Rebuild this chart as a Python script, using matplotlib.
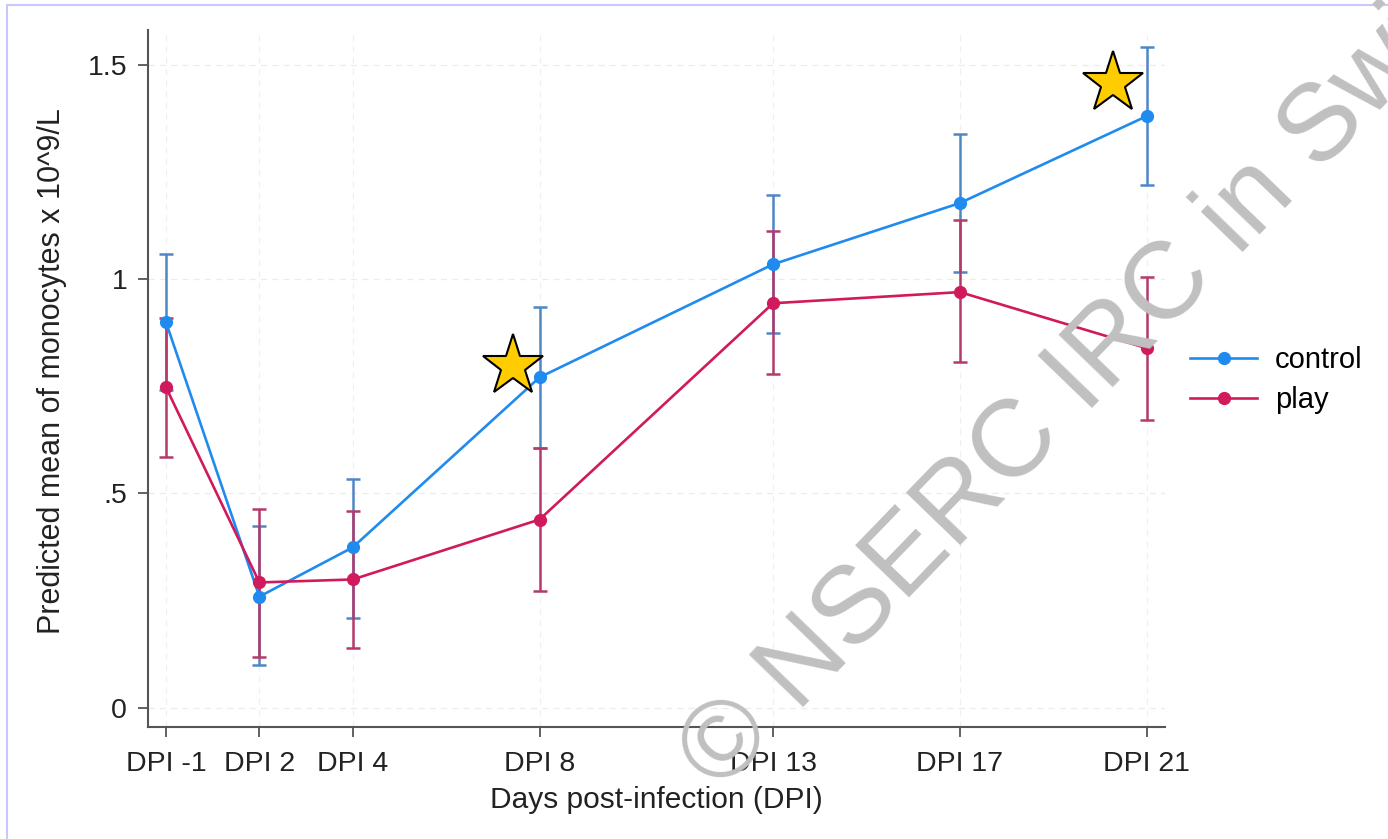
import matplotlib
matplotlib.use('Agg')
import matplotlib.pyplot as plt
from matplotlib.patches import Rectangle

plt.rcParams['font.family'] = ['Liberation Sans', 'DejaVu Sans']

# x positions (DPI -1 is coded as 0)
days = [0, 2, 4, 8, 13, 17, 21]
day_labels = ["DPI -1", "DPI 2", "DPI 4", "DPI 8", "DPI 13", "DPI 17", "DPI 21"]

control_mean = [0.900, 0.259, 0.374, 0.771, 1.035, 1.178, 1.381]
control_lo = [0.742, 0.100, 0.210, 0.607, 0.874, 1.016, 1.220]
control_hi = [1.058, 0.423, 0.533, 0.935, 1.196, 1.339, 1.542]

play_mean = [0.748, 0.292, 0.299, 0.439, 0.944, 0.970, 0.839]
play_lo = [0.586, 0.117, 0.140, 0.273, 0.778, 0.806, 0.671]
play_hi = [0.910, 0.463, 0.460, 0.607, 1.112, 1.138, 1.005]

# significance stars
star_x = [7.43, 20.28]
star_y = [0.797, 1.458]

yticks = [0, 0.5, 1, 1.5]
ytick_labels = ["0", ".5", "1", "1.5"]

blue = '#1f8bef'
blue_err = '#4f86c6'
red = '#d01a5c'
red_err = '#b43a6c'

fig = plt.figure(figsize=(13.88, 8.39), dpi=100)
ax = fig.add_axes([0.1066, 0.1335, 0.7327, 0.8307])

# faint dashed grid
for y in yticks:
    ax.axhline(y, color='#ececec', lw=0.9, ls=(0, (5, 4)), zorder=0)
for x in days:
    ax.axvline(x, color='#f0f0f0', lw=0.9, ls=(0, (5, 4)), zorder=0)

def draw(mean, lo, hi, col, ecol, label):
    err = [[m - l for m, l in zip(mean, lo)], [h - m for m, h in zip(mean, hi)]]
    ax.errorbar(days, mean, yerr=err, fmt='none', ecolor=ecol, elinewidth=1.8,
                capsize=5, capthick=1.8, zorder=2)
    ax.plot(days, mean, color=col, lw=1.9, marker='o', ms=8.5, mfc=col, mec=col,
            label=label, zorder=3)

draw(control_mean, control_lo, control_hi, blue, blue_err, 'control')
draw(play_mean, play_lo, play_hi, red, red_err, 'play')

ax.plot(star_x, star_y, ls='none', marker='*', ms=46, mfc='#ffcc00', mec='black',
        mew=1.5, zorder=5, clip_on=False)

ax.set_xlim(-0.385, 21.39)
ax.set_ylim(-0.0455, 1.582)
ax.set_xticks(days)
ax.set_xticklabels(day_labels)
ax.set_yticks(yticks)
ax.set_yticklabels(ytick_labels)

for s in ['top', 'right']:
    ax.spines[s].set_visible(False)
for s in ['left', 'bottom']:
    ax.spines[s].set_color('#555555')
    ax.spines[s].set_linewidth(1.5)
ax.tick_params(axis='both', length=7, width=1.3, color='#555555',
               labelsize=20.5, labelcolor='#222222')
ax.tick_params(axis='x', pad=10)
ax.tick_params(axis='y', pad=8)

ax.set_xlabel('Days post-infection (DPI)', fontsize=21.5, color='#222222')
ax.set_ylabel('Predicted mean of monocytes x 10^9/L', fontsize=22, color='#222222')
ax.xaxis.set_label_coords(0.5, -0.085)
ax.yaxis.set_label_coords(-0.08, 0.51)

ax.legend(loc='center left', bbox_to_anchor=(0.8385, 0.547), bbox_transform=fig.transFigure,
          frameon=False, fontsize=21, handlelength=2.3, labelspacing=0.42, handletextpad=0.6)

# watermark
fig.text(0.519, 0.055, '\u00a9 NSERC IRC in Swine', fontsize=79, color='#c0c0c0',
         rotation=46, rotation_mode='anchor', ha='left', va='baseline', zorder=10)

# thin page border
fig.patches.append(Rectangle((0.005, -0.02), 1.0, 1.014, transform=fig.transFigure,
                             fill=False, ec='#c8c8ff', lw=1.5))

fig.savefig('out.png', dpi=100)
